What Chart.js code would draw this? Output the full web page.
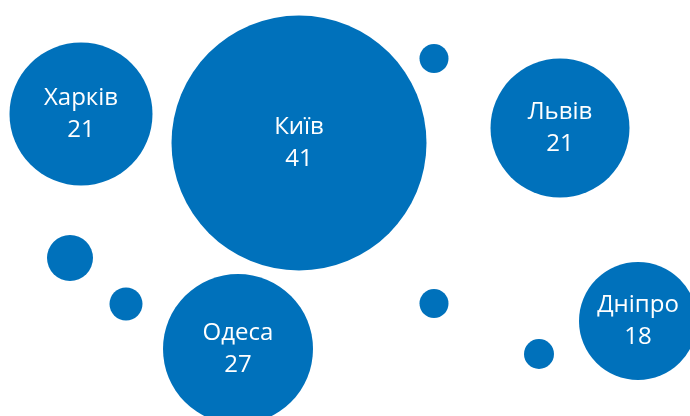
<!DOCTYPE html>
<html lang="uk">
<head>
    <meta charset="UTF-8">
    <title>Міста</title>
    <script src="https://cdn.jsdelivr.net/npm/chart.js"></script>
    <style>
        html, body { margin: 0; padding: 0; background: #fff; }
        #wrap { width: 690px; height: 416px; }
    </style>
</head>
<body>
    <div id="wrap"><canvas id="bubbleChart"></canvas></div>

    <script>
        // labelled bubbles
        const cities = ['Харків', 'Київ', 'Львів', 'Одеса', 'Дніпро'];
        const cityValues = [21, 41, 21, 27, 18];
        const cityX = [81, 299, 560, 238, 638];
        const cityY = [114, 143, 128, 349, 321];
        const cityR = [71.5, 127.5, 69.5, 75, 59];

        // small unlabelled bubbles
        const dotX = [434, 70, 126, 434, 539];
        const dotY = [58.5, 258, 304, 303.5, 354];
        const dotR = [14.5, 23, 16.5, 14.5, 15];

        const blue = '#0071bb';

        const bubbleLabels = {
            id: 'bubbleLabels',
            afterDatasetsDraw(chart) {
                const ctx = chart.ctx;
                const meta = chart.getDatasetMeta(0);
                ctx.save();
                ctx.fillStyle = '#ffffff';
                ctx.font = '24px "Open Sans"';
                ctx.textAlign = 'center';
                ctx.textBaseline = 'middle';
                meta.data.forEach((pt, i) => {
                    ctx.fillText(cities[i], pt.x, pt.y - 16);
                    ctx.fillText(String(cityValues[i]), pt.x, pt.y + 16);
                });
                ctx.restore();
            }
        };

        new Chart(document.getElementById('bubbleChart'), {
            type: 'bubble',
            data: {
                datasets: [{
                    label: 'Міста',
                    data: cities.map((c, i) => ({ x: cityX[i], y: cityY[i], r: cityR[i] })),
                    backgroundColor: blue,
                    borderWidth: 0
                }, {
                    label: 'Інші',
                    data: dotX.map((x, i) => ({ x: x, y: dotY[i], r: dotR[i] })),
                    backgroundColor: blue,
                    borderWidth: 0
                }]
            },
            options: {
                responsive: true,
                maintainAspectRatio: false,
                animation: false,
                layout: { padding: 0, autoPadding: false },
                scales: {
                    x: { type: 'linear', min: 0, max: 690, display: false },
                    y: { type: 'linear', min: 0, max: 416, reverse: true, display: false }
                },
                plugins: {
                    legend: { display: false },
                    tooltip: { enabled: false }
                },
                elements: { point: { hoverRadius: 0 } }
            },
            plugins: [bubbleLabels]
        });
    </script>
</body>
</html>
